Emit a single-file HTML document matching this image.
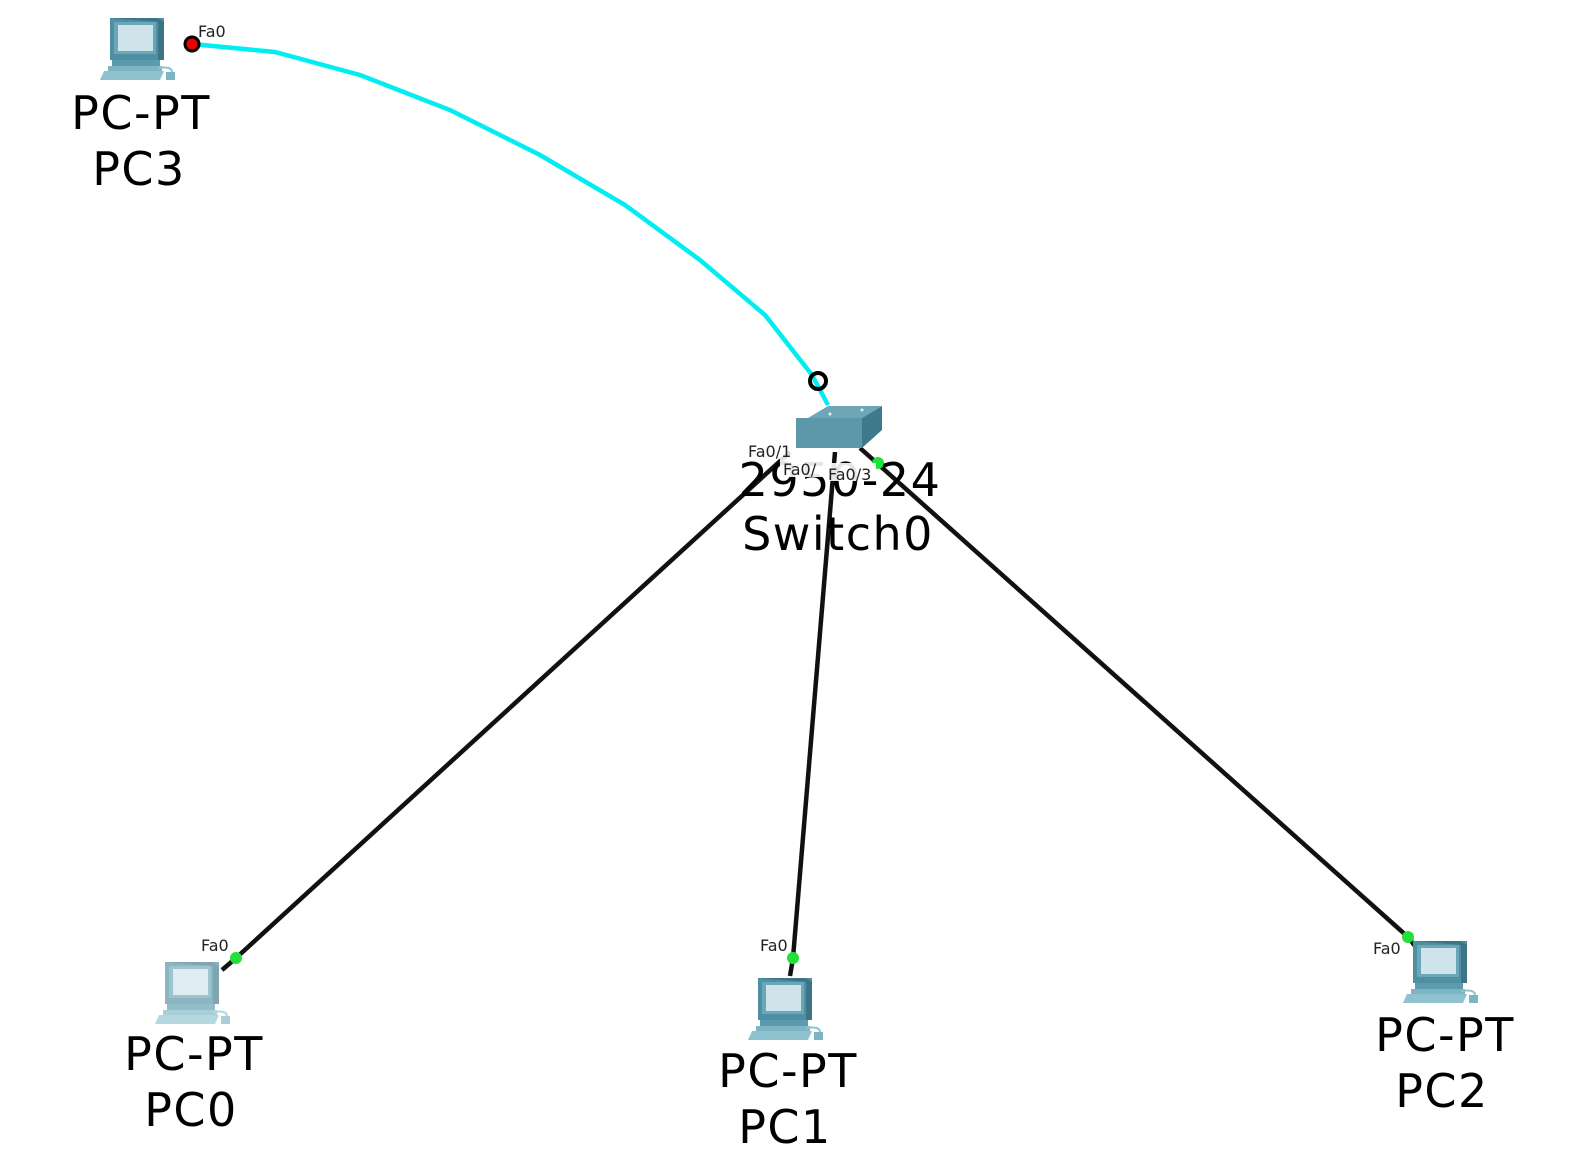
<!DOCTYPE html>
<html><head><meta charset="utf-8"><style>
html,body{margin:0;padding:0;background:#fff;}
svg{display:block;}
.lbl{font-family:"DejaVu Sans","Liberation Sans",sans-serif;font-size:46px;letter-spacing:1.5px;fill:#000;text-anchor:middle;}
.p{font-family:"DejaVu Sans","Liberation Sans",sans-serif;font-size:16px;fill:#222;}
</style></head><body>
<svg width="1572" height="1158" viewBox="0 0 1572 1158" xmlns="http://www.w3.org/2000/svg">
<defs>
<g id="pc">
  <rect x="10" y="0" width="54" height="42" fill="#4f8fa3"/>
  <polygon points="10,0 58,0 64,4 64,42 58,42 58,4" fill="#3d7586"/>
  <rect x="14" y="4" width="42" height="32" fill="#6aa7b8"/>
  <rect x="18" y="7" width="35" height="26" fill="#cfe3ea"/>
  <rect x="12" y="42" width="48" height="6" fill="#5a9bae"/>
  <rect x="8" y="48" width="54" height="5" fill="#7db5c4"/>
  <polygon points="4,53 64,53 60,62 0,62" fill="#8fc2cf"/>
  <path d="M58,50 Q72,48 72,54" stroke="#8fc2cf" stroke-width="2" fill="none"/>
  <rect x="66" y="54" width="9" height="8" fill="#7db5c4"/>
</g>
</defs>

<polyline points="192,44 275,52 360,75 450,110 540,155 625,205 700,260 765,315 812,375 828,405" fill="none" stroke="#00eef2" stroke-width="4.5"/>
<line x1="236" y1="958" x2="790" y2="452" stroke="#111" stroke-width="4.5"/>
<line x1="835" y1="452" x2="793" y2="958" stroke="#111" stroke-width="4.5"/>
<line x1="860" y1="448" x2="1408" y2="937" stroke="#111" stroke-width="4.5"/>
<line x1="793" y1="958" x2="790" y2="976" stroke="#111" stroke-width="4.5"/>
<line x1="236" y1="958" x2="222" y2="970" stroke="#111" stroke-width="4.5"/>
<line x1="1408" y1="937" x2="1415" y2="946" stroke="#111" stroke-width="4.5"/>

<polygon points="808,418 828,406 882,406 862,418" fill="#6ea6b7"/>
<rect x="796" y="418" width="66" height="30" fill="#5d98aa"/>
<polygon points="862,418 882,406 882,430 862,448" fill="#3f7a8c"/>
<circle cx="830" cy="414" r="1.5" fill="#dfeef3"/><circle cx="862" cy="410" r="1.5" fill="#dfeef3"/>

<circle cx="192" cy="44" r="7" fill="#e00" stroke="#000" stroke-width="3"/>
<circle cx="818" cy="381" r="8" fill="none" stroke="#000" stroke-width="4"/>
<circle cx="236" cy="958" r="6" fill="#22e03a"/>
<circle cx="793" cy="958" r="6" fill="#22e03a"/>
<circle cx="1408" cy="937" r="6" fill="#22e03a"/>
<circle cx="878" cy="463" r="6" fill="#22e03a"/>

<use href="#pc" x="100" y="18"/>
<g opacity="0.65"><use href="#pc" x="155" y="962"/></g>
<use href="#pc" x="748" y="978"/>
<use href="#pc" x="1403" y="941"/>

<text class="lbl" x="141" y="129">PC-PT</text>
<text class="lbl" x="139" y="185">PC3</text>
<text class="lbl" x="194" y="1070">PC-PT</text>
<text class="lbl" x="191" y="1126">PC0</text>
<text class="lbl" x="788" y="1087">PC-PT</text>
<text class="lbl" x="785" y="1143">PC1</text>
<text class="lbl" x="1445" y="1051">PC-PT</text>
<text class="lbl" x="1442" y="1107">PC2</text>
<text class="lbl" x="840" y="496">2950-24</text>
<text class="lbl" x="838" y="550">Switch0</text>

<text class="p" x="198" y="37">Fa0</text>
<text class="p" x="201" y="951">Fa0</text>
<text class="p" x="760" y="951">Fa0</text>
<text class="p" x="1373" y="954">Fa0</text>
<rect x="746" y="441" width="50" height="18" fill="#fff" opacity="0.85"/>
<text class="p" x="748" y="457">Fa0/1</text>
<rect x="780" y="459" width="48" height="18" fill="#fff" opacity="0.9"/>
<text class="p" x="783" y="475">Fa0/</text>
<rect x="826" y="463" width="50" height="18" fill="#fff" opacity="0.9"/>
<text class="p" x="828" y="480">Fa0/3</text>
</svg>
</body></html>
